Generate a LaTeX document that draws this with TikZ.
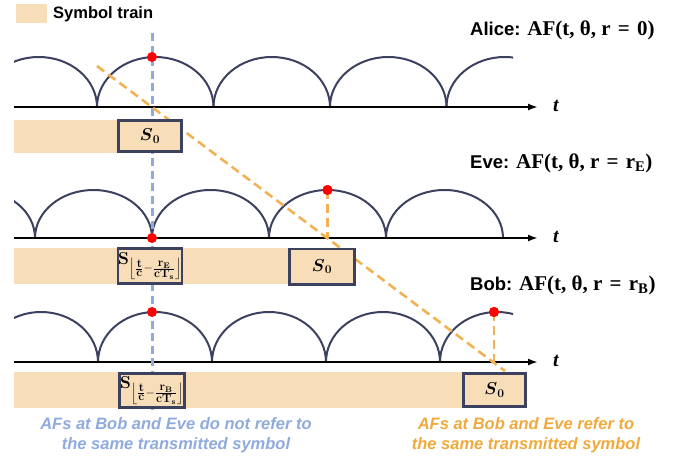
\documentclass[tikz,border=0pt]{standalone}
\usepackage{amsmath}
\usepackage[no-math]{fontspec}
\setmainfont{Liberation Sans}
\newfontfamily\serifface{Liberation Serif}
\usetikzlibrary{arrows.meta}
\definecolor{beige}{RGB}{248,221,185}
\definecolor{navy}{RGB}{60,65,96}
\definecolor{dorange}{RGB}{242,178,84}
\definecolor{lblue}{RGB}{143,170,220}
\definecolor{torange}{RGB}{240,170,60}
\tikzset{
  afarc/.style={draw=navy, line width=2pt},
  axisline/.style={line width=1.8pt, -{Latex[length=10pt,width=7pt]}},
  symbox/.style={draw=navy, line width=2.6pt, fill=beige, inner sep=0pt, minimum width=63.4pt, minimum height=31.4pt},
  reddot/.style={circle, fill=red, inner sep=0pt, minimum size=10pt},
  blueline/.style={draw=lblue, line width=3pt, dash pattern=on 8pt off 4.5pt},
  orangeline/.style={draw=dorange, line width=2.6pt, dash pattern=on 9pt off 5pt},
  rowlabel/.style={anchor=west, inner sep=0pt, font=\fontsize{18.5}{20}\selectfont\bfseries},
  tlabel/.style={inner sep=0pt, font=\serifface\bfseries\itshape\fontsize{20}{22}\selectfont},
  note/.style={align=center, inner sep=0pt, font=\bfseries\itshape\fontsize{16.5}{20}\selectfont},
  boxtext/.style={font=\fontsize{16.5}{18}\selectfont}
}
\newcommand{\serifpart}[1]{{\serifface\bfseries\fontsize{21}{22}\selectfont #1}}
\newcommand{\floorsub}[1]{\mathbf{S}_{\left\lfloor\frac{\scriptstyle\mathbf{t}}{\scriptstyle\mathbf{c}}-\frac{\scriptstyle\mathbf{r}_{\mathbf{#1}}}{\scriptstyle\mathbf{cT}_{\mathbf{s}}}\right\rfloor}}
\begin{document}
\begin{tikzpicture}[x=1pt,y=-1pt]
\useasboundingbox (0,0) rectangle (683,458);
% legend
\fill[beige] (16,4) rectangle (47,23);
\node[anchor=west, inner sep=0pt, font=\bfseries\fontsize{16.5}{18}\selectfont] (leg) at (53,14) {Symbol train};

% ---------- arcs ----------
\begin{scope}
\clip (14,0) rectangle (513,120);
\foreach \c in {38.75,155.25,271.75,388.25,504.75}
  \draw[afarc] ({\c-58.25},107) arc[start angle=180,end angle=0,x radius=58.25pt,y radius=50pt];
\end{scope}
\begin{scope}
\clip (14,130) rectangle (513,245);
\foreach \c in {-23.5,93.5,210.5,327.5,444.5}
  \draw[afarc] ({\c-58.5},238) arc[start angle=180,end angle=0,x radius=58.5pt,y radius=48pt];
\end{scope}
\begin{scope}
\clip (14,290) rectangle (513,370);
\foreach \c in {41,155,269,383,497}
  \draw[afarc] ({\c-57},362) arc[start angle=180,end angle=0,x radius=57pt,y radius=50pt];
\end{scope}

% ---------- axes ----------
\coordinate (aA0) at (14,107); \coordinate (aA1) at (538,107);
\coordinate (aE0) at (14,238); \coordinate (aE1) at (538,238);
\coordinate (aB0) at (14,362); \coordinate (aB1) at (538,362);
\draw[axisline] (aA0) -- (aA1);
\draw[axisline] (aE0) -- (aE1);
\draw[axisline] (aB0) -- (aB1);
\node[tlabel] (tA) at (556,106) {t};
\node[tlabel] (tE) at (556,237) {t};
\node[tlabel] (tB) at (556,361) {t};

% ---------- symbol trains ----------
\fill[beige] (14,120) rectangle (120,153);
\fill[beige] (14,248) rectangle (292,284);
\fill[beige] (14,372) rectangle (465,408);

% blue line
\coordinate (bl0) at (152,33); \coordinate (bl1) at (152,410);
\draw[blueline] (bl0) -- (bl1);

% orange diagonal (behind the boxes)
\coordinate (o1) at (97,66); \coordinate (o2) at (505,371);
\draw[orangeline] (o1) -- (o2);

% boxes
\node[symbox, boxtext] (sA0) at (150,136) {$\boldsymbol{S}_{\mathbf{0}}$};
\node[symbox, minimum height=35.4pt] (sE) at (150,266) {\fontsize{17}{20}\selectfont$\floorsub{E}$};
\node[symbox, boxtext, minimum width=65.4pt, minimum height=35.4pt] (sE0) at (322,266.5) {$\boldsymbol{S}_{\mathbf{0}}$};
\node[symbox, minimum width=65.4pt, minimum height=34.4pt] (sB) at (152,390.5) {\fontsize{17}{20}\selectfont$\floorsub{B}$};
\node[symbox, boxtext, minimum width=62.4pt, minimum height=33.4pt] (sB0) at (494.5,390) {$\boldsymbol{S}_{\mathbf{0}}$};

% orange verticals and dots
\coordinate (eX) at (327.5,238); \coordinate (bX) at (494,362);
\node[reddot] (dA) at (152,57) {};
\node[reddot] (dE1) at (152,238) {};
\node[reddot] (dE2) at (327.5,190) {};
\node[reddot] (dB1) at (152,312) {};
\node[reddot] (dB2) at (494,312) {};
\draw[orangeline] (dE2.center) -- (eX);
\draw[orangeline] (dB2.center) -- (bX);
\node[reddot] at (dE2) {};
\node[reddot] at (dB2) {};

% row labels
\node[rowlabel] (lA) at (470,30) {Alice: \serifpart{AF(t, θ, r\hspace{2pt} = \hspace{2pt}0)}};
\node[rowlabel] (lE) at (470,163) {Eve: \serifpart{AF(t, θ, r\hspace{2pt} = \hspace{2pt}r\textsubscript{E})}};
\node[rowlabel] (lB) at (470,285) {Bob: \serifpart{AF(t, θ, r\hspace{2pt} = \hspace{2pt}r\textsubscript{B})}};

% notes
\node[note, text=lblue] (nB) at (176,435) {AFs at Bob and Eve do not refer to\\the same transmitted symbol};
\node[note, text=torange] (nO) at (526,435) {AFs at Bob and Eve refer to\\the same transmitted symbol};
\end{tikzpicture}
\end{document}
